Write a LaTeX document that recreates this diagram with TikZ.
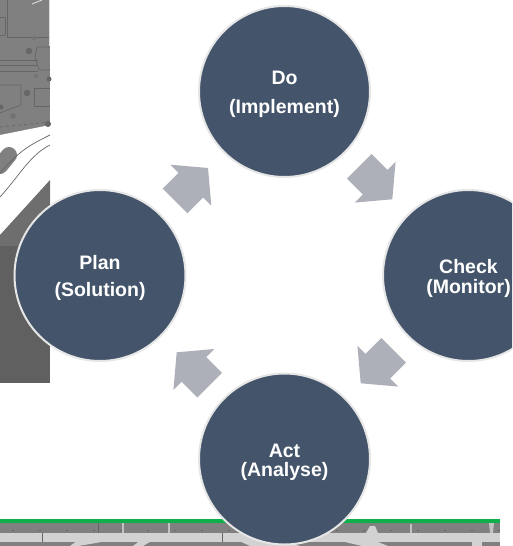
\documentclass[tikz,border=0pt]{standalone}
\usepackage{fontspec}
\setmainfont{Liberation Sans}
\usetikzlibrary{shapes.arrows}
\definecolor{stageblue}{HTML}{44546A}
\definecolor{stageedge}{HTML}{E6E6E6}
\definecolor{arrowgrey}{HTML}{ADB0B9}
\definecolor{mapgrey}{HTML}{808080}
\definecolor{mapdark}{HTML}{606060}
\definecolor{mapmid}{HTML}{6E6E6E}
\definecolor{maproad}{HTML}{D2D2D2}
\definecolor{mapline}{HTML}{666666}
\definecolor{mapgreen}{HTML}{0DB04B}
\newcommand{\stagegap}{\rule{0pt}{19.2pt}}
\tikzset{
    stage/.style={circle, draw=stageedge, line width=2pt, fill=stageblue, text=white,
        minimum size=171pt, inner sep=0pt, align=center,
        font=\bfseries\fontsize{19.5}{18}\selectfont},
    turn/.style={single arrow, fill=arrowgrey, draw=none, anchor=tip,
        inner xsep=0pt, inner ysep=17.2pt, outer sep=0pt,
        minimum height=46.6pt, single arrow head extend=11.5pt,
        single arrow tip angle=100, single arrow head indent=0pt},
    mapstroke/.style={draw=mapline, line width=0.7pt}
}
\begin{document}
\begin{tikzpicture}[x=1pt,y=-1pt]
    \useasboundingbox (0,0) rectangle (512,546);
    \clip (0,0) rectangle (512,546);
    % left map
    \fill[mapgrey] (0,0) rectangle (50,136);
    \fill[white] (0,135) -- (50,125) -- (50,180) -- (0,235) -- cycle;
    \fill[mapmid] (0,235) -- (50,180) -- (50,246) -- (0,246) -- cycle;
    \fill[mapdark] (0,246) rectangle (50,383);
    \draw[mapstroke] (7,0) -- (7,37) -- (50,37);
    \draw[mapstroke] (0,17) -- (5,17) (0,35) -- (5,35) (5,17) -- (5,35);
    \draw[mapstroke] (0,60) -- (38,60) (0,65) -- (38,65) (0,71) -- (38,71);
    \draw[mapstroke] (50,47) -- (37,47) -- (35,57) -- (39,70) -- (50,70);
    \draw[mapstroke] (0,85) -- (21,85) -- (21,105) -- (0,113);
    \draw[mapstroke] (50,88) -- (34,88) -- (34,106) -- (50,106);
    \draw[mapstroke, dashed] (0,127) -- (50,122);
    \draw[white!85!black, line width=1pt] (49,0) -- (49,46);
    \draw[white!85!black, line width=1pt] (32,4) -- (42,0);
    \fill[black!60] (29,51) circle (3.2pt) (27,93) circle (3.2pt) (48,124) circle (3pt) (49,79) circle (2.5pt) (1,107) circle (2.5pt);
    \fill[black!55] (34,38) circle (2pt) (36,76) circle (2pt) (13,116) circle (3pt);
    \draw[mapgrey, line width=16pt, line cap=round] (9,155) -- (0,166);
    \draw[mapstroke] (0,173) .. controls (20,150) and (30,145) .. (50,135);
    \draw[mapstroke] (0,197) .. controls (20,175) and (30,155) .. (50,145);
    % bottom map
    \fill[mapgrey] (0,522) rectangle (500,546);
    \fill[maproad] (0,533) rectangle (500,542);
    \fill[maproad] (70,546) .. controls (80,538) and (90,535) .. (100,533) -- (125,533) .. controls (120,538) and (115,540) .. (78,546) -- cycle;
    \fill[maproad] (133,546) -- (150,533) -- (165,533) -- (143,546) -- cycle;
    \fill[maproad] (222,533) -- (260,533) -- (300,546) -- (250,546) -- cycle;
    \fill[maproad] (366,533) -- (378,533) -- (375,526) -- (370,526) -- cycle;
    \fill[maproad] (345,542) -- (378,542) -- (388,546) -- (362,546) -- cycle;
    \fill[maproad] (472,542) rectangle (482,546);
    \fill[maproad!80!mapgrey] (122,523) rectangle (124,533);
    \fill[maproad!80!mapgrey] (168,523) rectangle (170,533);
    \fill[maproad!80!mapgrey] (410,524) rectangle (412,533);
    \fill[maproad!80!mapgrey] (489,523) -- (494,523) -- (493,533) -- (490,533) -- cycle;
    \draw[mapstroke, dash pattern=on 2pt off 25pt] (12,530) -- (500,530);
    \draw[mapline, line width=0.5pt] (42,533) -- (42,542) (98,523) -- (98,533) (222,533) -- (222,542);
    \fill[mapgreen] (0,519) rectangle (500,522.6);
    % cycle
    \node[stage] (do) at (284.5,91.5) {\stagegap Do\\[10.5pt](Implement)};
    \node[stage] (check) at (468.5,275.5) {\stagegap Check\\[2pt](Monitor)};
    \node[stage] (act) at (284.5,459) {\stagegap Act\\[1pt](Analyse)};
    \node[stage] (plan) at (100,275.5) {\stagegap Plan\\[9.5pt](Solution)};
    \node[turn, rotate=-45] (dotocheck) at (392.3,199.3) {};
    \node[turn, rotate=-135] (checktoact) at (360.7,383.3) {};
    \node[turn, rotate=135] (acttoplan) at (176.7,352.3) {};
    \node[turn, rotate=45] (plantodo) at (208,168) {};
\end{tikzpicture}
\end{document}
